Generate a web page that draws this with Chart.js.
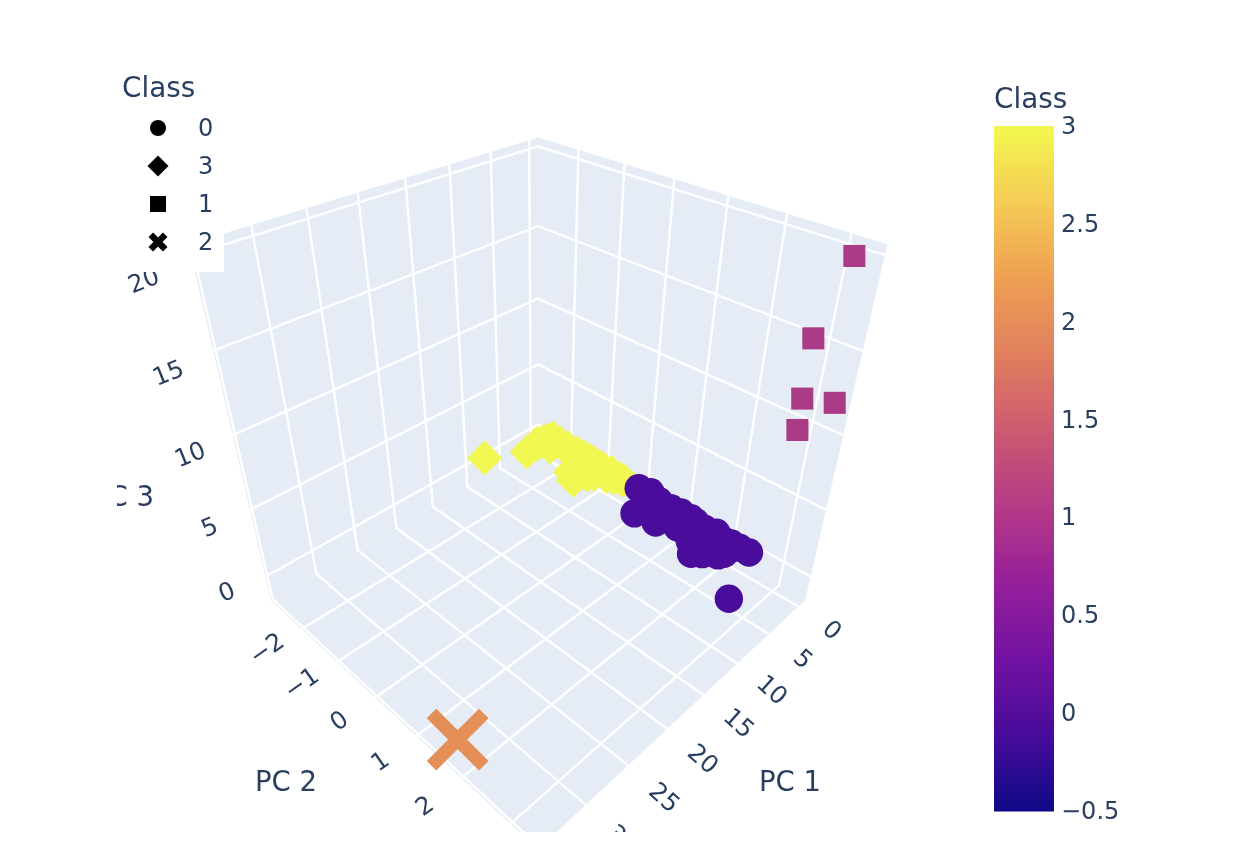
<!DOCTYPE html>
<html>
<head>
<meta charset="utf-8">
<title>Crypto classes PCA</title>
<script src="https://cdn.jsdelivr.net/npm/chart.js@4"></script>
<style>
  html, body { margin: 0; background: #fff; }
  canvas { position: absolute; }
  #scene { left: 117px; top: 60px; }
  #colorbar { left: 994px; top: 70px; }
</style>
</head>
<body>
<canvas id="scene" width="843" height="772"></canvas>
<canvas id="colorbar" width="130" height="763"></canvas>
<script>
// values, one [pc1, pc2, pc3] list per class
const class0Pc1 = [0.66, 4.14, 0.30, 3.74, 1.25, 0.91, 0.70, 2.79, 0.74, 2.83, 1.08, 0.73, 4.97, 3.79, 2.66, 3.49, 2.71, 2.72, 1.04, 0.97, 0.89, 7.42, 1.66, 0.82, 3.04, 2.19, 2.04, 0.89, 2.52, 3.61, 1.56, 1.23, 1.75, 4.26, 3.33];
const class0Pc2 = [0.04, 0.46, 0.27, 0.89, 0.65, 0.83, 1.03, 1.25, 1.26, 1.44, 1.60, 1.82, 1.84, 1.83, 1.95, 2.06, 2.13, 2.24, 2.17, 2.33, 2.52, 2.93, 0.39, 0.54, 0.70, 0.89, 1.11, 1.39, 1.74, 1.63, 1.86, 2.04, 2.22, 1.98, 2.19];
const class0Pc3 = [0.5, 0.5, 0.5, 0.5, 0.5, 0.5, 0.5, 0.5, 0.5, 0.5, 0.5, 0.5, 0.5, 0.5, 0.5, 0.5, 0.5, 0.5, 0.5, 0.5, 0.5, 0.5, 0.5, 0.5, 0.5, 0.5, 0.5, 0.5, 0.5, 0.5, 0.5, 0.5, 0.5, 0.5, 0.5];
const class3Pc1 = [8.45, 4.38, 2.28, 1.14, 0.38, 0.53, 1.88, 0.95, 0.56, 0.58, 0.67, 3.69, 4.50, 2.79, 1.36, 0.72, 1.31, 0.62, 0.73, 2.73, 1.71, 0.60, 0.58, 0.70, 0.62, 0.82, 3.06, 2.20, 1.15, 1.55];
const class3Pc2 = [-2.70, -2.26, -2.33, -2.27, -2.24, -2.01, -2.06, -1.75, -1.54, -1.35, -1.17, -1.21, -0.99, -0.91, -0.88, -0.91, -0.74, -0.62, -0.32, -2.32, -2.28, -1.78, -1.11, -0.84, -0.64, -0.39, -1.05, -0.84, -0.50, -0.62];
const class3Pc3 = [0.5, 0.5, 0.5, 0.5, 0.5, 0.5, 0.5, 0.5, 0.5, 0.5, 0.5, 0.5, 0.5, 0.5, 0.5, 0.5, 0.5, 0.5, 0.5, 0.5, 0.5, 0.5, 0.5, 0.5, 0.5, 0.5, 0.5, 0.5, 0.5, 0.5];
const class1Pc1 = [0.3, 0.3, 0.3, 0.3, 0.3];
const class1Pc2 = [3.23, 2.88, 2.89, 3.40, 2.91];
const class1Pc3 = [19.93, 15.19, 11.68, 12.22, 9.75];
const class2Pc1 = [34.46];
const class2Pc2 = [1.81];
const class2Pc3 = [0];

const pc1Ticks = [0, 5, 10, 15, 20, 25, 30, 35];
const pc2Ticks = [-2, -1, 0, 1, 2, 3];
const pc3Ticks = [0, 5, 10, 15, 20];
const pc1Range = [-1.2, 35.2];
const pc2Range = [-2.945, 3.52];
const pc3Range = [-1.9, 20.52];

const legendOrder = ['0', '3', '1', '2'];
const colorbarTicks = [-0.5, 0, 0.5, 1, 1.5, 2, 2.5, 3];
const plasma = ['#0d0887', '#470b9a', '#7212a2', '#961f9a', '#b43a86', '#cc5a70', '#e07f5e', '#ee9f52', '#f5cb55', '#f2f84f'];

const INK = '#2a3f5f';
const WALL = '#e5ecf6';
const FONT = '"DejaVu Sans", Verdana, sans-serif';

// same default camera as a plotly scene: eye (1.25, 1.25, 1.25), looking at the box centre
const FOCAL = 927, CX = 538, CY = 446;
const norm = (v, r) => (v - r[0]) / (r[1] - r[0]) - 0.5;

function cam(qx, qy, qz) {
  const X = (qy - qx) / Math.SQRT2;
  const Y = (2 * qz - qx - qy) / Math.sqrt(6);
  const Z = 2.16506 - (qx + qy + qz) / Math.sqrt(3);
  return { x: CX + FOCAL * X / Z, y: CY - FOCAL * Y / Z };
}
function project(a, b, c) {
  return cam(norm(a, pc1Range), norm(b, pc2Range), norm(c, pc3Range));
}
function points(p1, p2, p3) {
  return p1.map((v, i) => project(v, p2[i], p3[i]));
}

const [x0, x1] = pc1Range, [y0, y1] = pc2Range, [z0, z1] = pc3Range;

function wall(corners) {
  return {
    data: corners.map(c => project(c[0], c[1], c[2])),
    showLine: true, fill: 'shape', backgroundColor: WALL, borderColor: WALL, borderWidth: 0,
    pointRadius: 0, order: 10
  };
}
function gridLine(corners) {
  return {
    data: corners.map(c => project(c[0], c[1], c[2])),
    showLine: true, fill: false, borderColor: '#ffffff', borderWidth: 2.4,
    pointRadius: 0, order: 9
  };
}

const datasets = [
  wall([[x0, y0, z0], [x1, y0, z0], [x1, y1, z0], [x0, y1, z0]]),
  wall([[x0, y0, z0], [x1, y0, z0], [x1, y0, z1], [x0, y0, z1]]),
  wall([[x0, y0, z0], [x0, y1, z0], [x0, y1, z1], [x0, y0, z1]])
];
pc1Ticks.forEach(t => datasets.push(gridLine([[t, y1, z0], [t, y0, z0], [t, y0, z1]])));
pc2Ticks.forEach(t => datasets.push(gridLine([[x1, t, z0], [x0, t, z0], [x0, t, z1]])));
pc3Ticks.forEach(t => datasets.push(gridLine([[x1, y0, t], [x0, y0, t], [x0, y1, t]])));

const classSets = {
  '3': { data: points(class3Pc1, class3Pc2, class3Pc3), pointStyle: 'rectRot', pointRadius: 17.5, pointBackgroundColor: '#f2f852', pointBorderWidth: 0, order: 4 },
  '0': { data: points(class0Pc1, class0Pc2, class0Pc3), pointStyle: 'circle', pointRadius: 14.2, pointBackgroundColor: '#4a0c9b', pointBorderWidth: 0, order: 3 },
  '1': { data: points(class1Pc1, class1Pc2, class1Pc3), pointStyle: 'rect', pointRadius: 15.6, pointBackgroundColor: '#aa3c87', pointBorderWidth: 0, order: 2 },
  '2': { data: points(class2Pc1, class2Pc2, class2Pc3), pointStyle: 'crossRot', pointRadius: 37, pointBorderColor: '#e58f58', pointBorderWidth: 13.5, order: 1 }
};
Object.keys(classSets).forEach(k => {
  classSets[k].label = k;
  classSets[k].showLine = false;
  datasets.push(classSets[k]);
});

function fmt(v) {
  return String(v).replace('-', '\u2212');
}

function drawText(ctx, text, px, py, deg, size) {
  ctx.save();
  ctx.translate(px, py);
  ctx.rotate(deg * Math.PI / 180);
  ctx.font = size + 'px ' + FONT;
  ctx.fillStyle = INK;
  ctx.textAlign = 'center';
  ctx.textBaseline = 'middle';
  ctx.fillText(text, 0, 0);
  ctx.restore();
}

// tick labels and axis titles of the box, placed through the same camera
const sceneText = {
  id: 'sceneText',
  afterDatasetsDraw(chart) {
    const ctx = chart.ctx, sx = chart.scales.x, sy = chart.scales.y;
    const put = (p, text, deg, size) => drawText(ctx, text, sx.getPixelForValue(p.x), sy.getPixelForValue(p.y), deg, size);
    pc1Ticks.forEach(t => put(cam(norm(t, pc1Range), 0.6, -0.518), fmt(t), 42, 24.5));
    pc2Ticks.forEach(t => put(cam(0.6, norm(t, pc2Range), -0.5), fmt(t), -35, 24.5));
    pc3Ticks.forEach(t => put(cam(0.578, -0.578, norm(t, pc3Range) - 0.06), fmt(t), -22, 24.5));
    put({ x: 790, y: 783.5 }, 'PC 1', 0, 27.5);
    put({ x: 286, y: 783.5 }, 'PC 2', 0, 27.5);
    put({ x: 123, y: 498.5 }, 'PC 3', 0, 27.5);
  }
};

const legendMarks = {
  '0': { pointStyle: 'circle', radius: 8, borderWidth: 0 },
  '3': { pointStyle: 'rectRot', radius: 10.5, borderWidth: 0 },
  '1': { pointStyle: 'rect', radius: 11.3, borderWidth: 0 },
  '2': { pointStyle: 'crossRot', radius: 10.2, borderWidth: 6.5 }
};

const classLegend = {
  id: 'classLegend',
  afterDraw(chart) {
    const ctx = chart.ctx, sx = chart.scales.x, sy = chart.scales.y;
    ctx.save();
    ctx.fillStyle = '#ffffff';
    ctx.fillRect(sx.getPixelForValue(117), sy.getPixelForValue(68), sx.getPixelForValue(224) - sx.getPixelForValue(117), sy.getPixelForValue(272) - sy.getPixelForValue(68));
    ctx.restore();
    ctx.save();
    ctx.font = '27.8px ' + FONT;
    ctx.fillStyle = INK;
    ctx.textAlign = 'left';
    ctx.textBaseline = 'middle';
    ctx.fillText('Class', sx.getPixelForValue(122), sy.getPixelForValue(90));
    ctx.font = '24px ' + FONT;
    legendOrder.forEach((name, i) => {
      const rowY = sy.getPixelForValue(128 + i * 38);
      ctx.fillStyle = '#000000';
      ctx.strokeStyle = '#000000';
      ctx.lineWidth = legendMarks[name].borderWidth;
      Chart.helpers.drawPoint(ctx, Object.assign({ rotation: 0 }, legendMarks[name]), sx.getPixelForValue(158), rowY);
      ctx.fillStyle = INK;
      ctx.fillText(name, sx.getPixelForValue(198), rowY + 1.5);
    });
    ctx.restore();
  }
};

new Chart(document.getElementById('scene'), {
  type: 'scatter',
  data: { datasets },
  plugins: [sceneText, classLegend],
  options: {
    responsive: false,
    animation: false,
    devicePixelRatio: 1,
    layout: { padding: 0, autoPadding: false },
    plugins: { legend: { display: false }, tooltip: { enabled: false } },
    scales: {
      x: { type: 'linear', display: false, min: 117, max: 960 },
      y: { type: 'linear', display: false, min: 60, max: 832, reverse: true }
    }
  }
});

new Chart(document.getElementById('colorbar'), {
  type: 'bar',
  data: {
    labels: ['Class'],
    datasets: [{
      data: [[colorbarTicks[0], colorbarTicks[colorbarTicks.length - 1]]],
      barPercentage: 1,
      categoryPercentage: 1,
      borderWidth: 0,
      backgroundColor(ctx) {
        const area = ctx.chart.chartArea;
        if (!area) return plasma[0];
        const g = ctx.chart.ctx.createLinearGradient(0, area.bottom, 0, area.top);
        plasma.forEach((c, i) => g.addColorStop(i / (plasma.length - 1), c));
        return g;
      }
    }]
  },
  options: {
    responsive: false,
    animation: false,
    devicePixelRatio: 1,
    layout: { padding: { bottom: 15 } },
    plugins: {
      legend: { display: false },
      tooltip: { enabled: false },
      title: {
        display: true, text: 'Class', align: 'start', color: INK,
        font: { family: FONT, size: 27.8, weight: 'normal' },
        padding: { top: 14, bottom: 8.6 }
      }
    },
    scales: {
      x: { display: false },
      y: {
        position: 'right',
        min: colorbarTicks[0],
        max: colorbarTicks[colorbarTicks.length - 1],
        grid: { display: false, drawTicks: false },
        border: { display: false },
        afterFit(scale) { scale.width = 70; },
        ticks: {
          stepSize: 0.5, padding: 7, color: INK, labelOffset: 1.5,
          font: { family: FONT, size: 24 },
          callback: v => fmt(v)
        }
      }
    }
  }
});
</script>
</body>
</html>
